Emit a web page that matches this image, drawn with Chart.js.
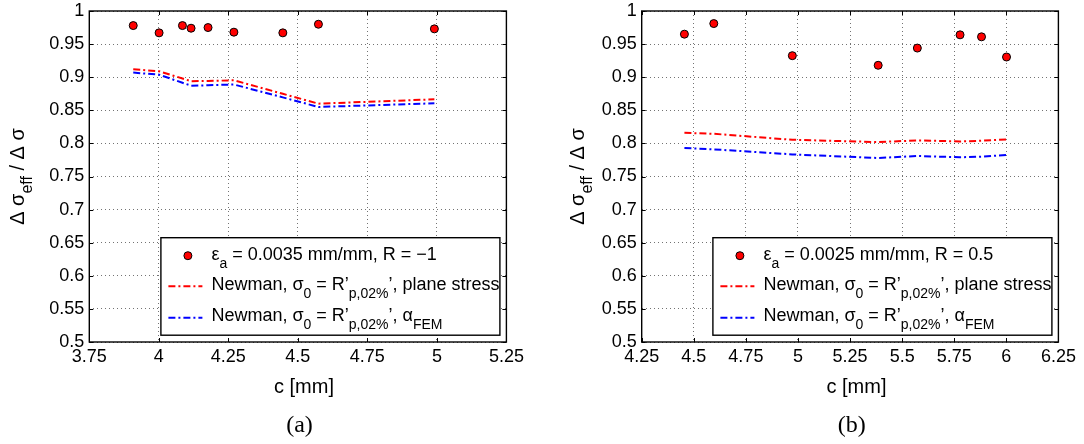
<!DOCTYPE html>
<html lang="en">

<head>
    <meta charset="UTF-8">
    <title>Δσeff / Δσ vs c</title>
    <script src="https://cdn.jsdelivr.net/npm/chart.js"></script>
    <style>
        body {
            margin: 0;
            background: #fff;
        }

        .panel {
            position: absolute;
            top: 0;
            width: 542px;
            height: 444px;
        }
    </style>
</head>

<body>
    <div class="panel" style="left:0"><canvas id="chartA" width="542" height="444"></canvas></div>
    <div class="panel" style="left:542px"><canvas id="chartB" width="542" height="444"></canvas></div>

    <script>
        // --- panel (a): eps_a = 0.0035, R = -1 ---
        const cA = [3.908, 4.001, 4.085, 4.116, 4.177, 4.270, 4.446, 4.574, 4.991];
        const measA = [0.978, 0.967, 0.978, 0.974, 0.975, 0.968, 0.967, 0.980, 0.973];
        const planeStressA = [0.912, 0.909, 0.898, 0.894, 0.8943, 0.8953, 0.8749, 0.860, 0.8666];
        const alphaFemA = [0.907, 0.9038, 0.8916, 0.8872, 0.8878, 0.889, 0.8695, 0.855, 0.8606];
        const xTicksA = [3.75, 4, 4.25, 4.5, 4.75, 5, 5.25];

        // --- panel (b): eps_a = 0.0025, R = 0.5 ---
        const cB = [4.455, 4.596, 4.973, 5.385, 5.573, 5.778, 5.881, 6.001];
        const measB = [0.965, 0.981, 0.9325, 0.918, 0.944, 0.964, 0.961, 0.9305];
        const planeStressB = [0.816, 0.8145, 0.8055, 0.802, 0.8045, 0.803, 0.804, 0.806];
        const alphaFemB = [0.793, 0.791, 0.7834, 0.778, 0.781, 0.779, 0.780, 0.7825];
        const xTicksB = [4.25, 4.5, 4.75, 5, 5.25, 5.5, 5.75, 6, 6.25];

        const yTicks = [0.5, 0.55, 0.6, 0.65, 0.7, 0.75, 0.8, 0.85, 0.9, 0.95, 1];
        const yTickLabels = ['0.5', '0.55', '0.6', '0.65', '0.7', '0.75', '0.8', '0.85', '0.9', '0.95', '1'];

        const SANS = '"Liberation Sans", Arial, Helvetica, sans-serif';
        const DASH_DOT = [7, 3, 2, 3];

        // draw a run of text pieces, [text, isSubscript]
        function richText(ctx, parts, x, y, size, subSize, subShift) {
            for (const [txt, sub] of parts) {
                ctx.font = (sub ? subSize : size) + 'px ' + SANS;
                ctx.fillText(txt, x, sub ? y + subShift : y);
                x += ctx.measureText(txt).width;
            }
            return x;
        }

        function richWidth(ctx, parts, size, subSize) {
            let w = 0;
            for (const [txt, sub] of parts) {
                ctx.font = (sub ? subSize : size) + 'px ' + SANS;
                w += ctx.measureText(txt).width;
            }
            return w;
        }

        // box, inward ticks, axis titles, legend and caption
        const decor = {
            id: 'decor',
            afterDraw(chart, args, o) {
                const ctx = chart.ctx;
                const a = chart.chartArea;
                const xs = chart.scales.x, ys = chart.scales.y;
                ctx.save();

                // tick marks pointing inwards, on all four sides
                ctx.strokeStyle = '#000';
                ctx.lineWidth = 1;
                ctx.beginPath();
                xs.ticks.forEach(t => {
                    const px = Math.round(xs.getPixelForValue(t.value)) + 0.5;
                    ctx.moveTo(px, a.bottom); ctx.lineTo(px, a.bottom - 4);
                    ctx.moveTo(px, a.top); ctx.lineTo(px, a.top + 4);
                });
                ys.ticks.forEach(t => {
                    const py = Math.round(ys.getPixelForValue(t.value)) + 0.5;
                    ctx.moveTo(a.left, py); ctx.lineTo(a.left + 4, py);
                    ctx.moveTo(a.right, py); ctx.lineTo(a.right - 4, py);
                });
                ctx.stroke();

                ctx.lineWidth = 1.4;
                ctx.strokeRect(a.left, a.top, a.right - a.left, a.bottom - a.top);

                ctx.fillStyle = '#000';
                ctx.textBaseline = 'alphabetic';

                // x title
                ctx.font = '20px ' + SANS;
                ctx.textAlign = 'center';
                ctx.fillText('c [mm]', o.xTitleX, 393);

                // y title, rotated
                ctx.textAlign = 'left';
                const yParts = [['Δ σ', 0], ['eff', 1], [' / Δ σ', 0]];
                const yw = richWidth(ctx, yParts, 20, 16);
                ctx.save();
                ctx.translate(o.yTitleX, (a.top + a.bottom) / 2);
                ctx.rotate(-Math.PI / 2);
                richText(ctx, yParts, -yw / 2, 0, 20, 16, 8);
                ctx.restore();

                // legend
                const bw = 339, bh = 97.5;
                const bx = a.right - 6.5 - bw, by = 237.7;
                ctx.fillStyle = '#fff';
                ctx.fillRect(bx, by, bw, bh);
                ctx.strokeStyle = '#000';
                ctx.lineWidth = 1.4;
                ctx.strokeRect(bx, by, bw, bh);

                const ds = chart.data.datasets;
                // markers row
                ctx.beginPath();
                ctx.arc(bx + 27, by + 18, 4, 0, Math.PI * 2);
                ctx.fillStyle = ds[0].backgroundColor;
                ctx.fill();
                ctx.lineWidth = 1;
                ctx.strokeStyle = '#000';
                ctx.stroke();
                // line rows
                [1, 2].forEach((k, i) => {
                    ctx.save();
                    ctx.strokeStyle = ds[k].borderColor;
                    ctx.lineWidth = 2;
                    ctx.setLineDash(DASH_DOT);
                    ctx.beginPath();
                    const ly = by + 48.5 + i * 31.5;
                    ctx.moveTo(bx + 7.5, ly);
                    ctx.lineTo(bx + 41.5, ly);
                    ctx.stroke();
                    ctx.restore();
                });

                ctx.fillStyle = '#000';
                o.legendRows.forEach((parts, i) => {
                    richText(ctx, parts, bx + 50.5, by + 22.3 + i * 30.4, 18, 14, 8);
                });

                // caption below the panel
                ctx.font = '24px "Liberation Serif", "Times New Roman", serif';
                ctx.textAlign = 'center';
                ctx.fillText(o.caption, o.captionX, 432);

                ctx.restore();
            }
        };

        function makePanel(id, c, meas, plane, fem, xTicks, axisLeft, opts) {
            const xy = (xv, yv) => xv.map((v, i) => ({ x: v, y: yv[i] }));
            const tickFont = { family: SANS, size: 18 };
            return new Chart(document.getElementById(id), {
                type: 'scatter',
                data: {
                    datasets: [
                        {
                            data: xy(c, meas),
                            backgroundColor: '#ff0000',
                            borderColor: '#000',
                            borderWidth: 1,
                            pointRadius: 4,
                            showLine: false
                        },
                        {
                            data: xy(c, plane),
                            borderColor: '#ff0000',
                            borderWidth: 2,
                            borderDash: DASH_DOT,
                            pointRadius: 0,
                            showLine: true
                        },
                        {
                            data: xy(c, fem),
                            borderColor: '#0000ff',
                            borderWidth: 2,
                            borderDash: DASH_DOT,
                            pointRadius: 0,
                            showLine: true
                        }
                    ]
                },
                options: {
                    responsive: false,
                    animation: false,
                    events: [],
                    layout: { padding: { top: 11, right: opts.padRight, left: 0, bottom: 0 } },
                    plugins: {
                        legend: { display: false },
                        tooltip: { enabled: false },
                        decor: opts
                    },
                    scales: {
                        x: {
                            type: 'linear',
                            min: xTicks[0],
                            max: xTicks[xTicks.length - 1],
                            afterBuildTicks: s => { s.ticks = xTicks.map(v => ({ value: v })); },
                            afterFit: s => {
                                s.height = 102;
                                s.paddingLeft = 0;
                                s.paddingRight = 0;
                            },
                            ticks: {
                                font: tickFont,
                                color: '#000',
                                padding: 4,
                                maxRotation: 0,
                                autoSkip: false,
                                callback: v => String(v)
                            },
                            grid: { color: 'rgba(0,0,0,0.55)', lineWidth: 1, drawTicks: false },
                            border: { display: false, dash: [1, 3] }
                        },
                        y: {
                            min: 0.5,
                            max: 1,
                            afterBuildTicks: s => { s.ticks = yTicks.map(v => ({ value: v })); },
                            afterFit: s => {
                                s.width = axisLeft;
                                s.paddingTop = 0;
                                s.paddingBottom = 0;
                            },
                            ticks: {
                                font: { family: SANS, size: 18, lineHeight: 1 },
                                color: '#000',
                                padding: 5,
                                autoSkip: false,
                                callback: (v, i) => yTickLabels[i]
                            },
                            grid: { color: 'rgba(0,0,0,0.55)', lineWidth: 1, drawTicks: false },
                            border: { display: false, dash: [1, 3] }
                        }
                    }
                },
                plugins: [decor]
            });
        }

        const rowsCommon = [
            [['Newman, σ', 0], ['0', 1], [' = R’', 0], ['p,02%', 1], ['’, plane stress', 0]],
            [['Newman, σ', 0], ['0', 1], [' = R’', 0], ['p,02%', 1], ['’, α', 0], ['FEM', 1]]
        ];

        makePanel('chartA', cA, measA, planeStressA, alphaFemA, xTicksA, 89.3, {
            padRight: 542 - 506.4,
            xTitleX: 304,
            yTitleX: 24,
            captionX: 299.5,
            caption: '(a)',
            legendRows: [[['ε', 0], ['a', 1], [' = 0.0035 mm/mm, R = −1', 0]]].concat(rowsCommon)
        });

        makePanel('chartB', cB, measB, planeStressB, alphaFemB, xTicksB, 99.7, {
            padRight: 542 - 516.4,
            xTitleX: 314.5,
            yTitleX: 42.3,
            captionX: 309.8,
            caption: '(b)',
            legendRows: [[['ε', 0], ['a', 1], [' = 0.0025 mm/mm, R = 0.5', 0]]].concat(rowsCommon)
        });
    </script>
</body>

</html>
